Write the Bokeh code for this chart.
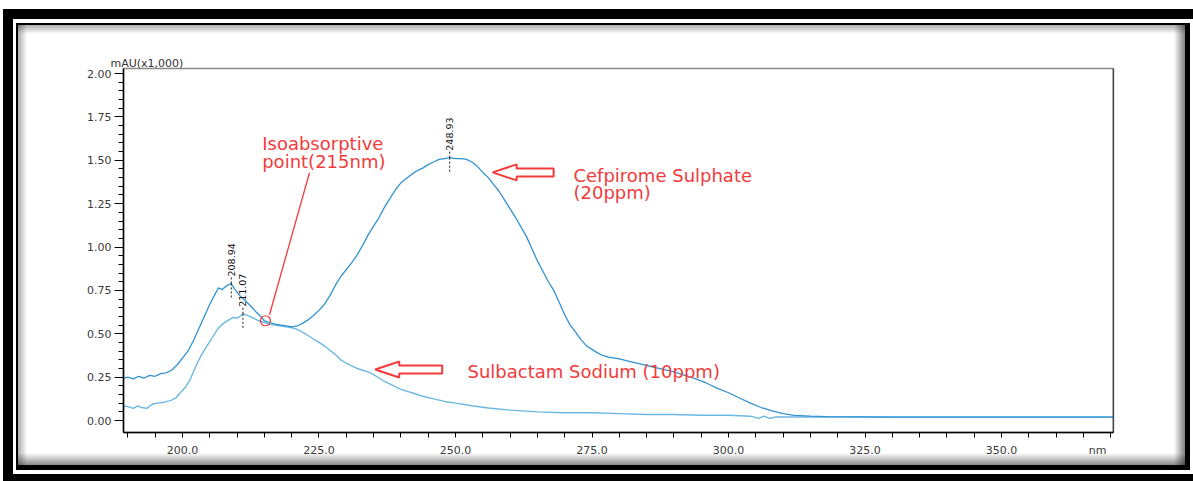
import math
from bokeh.plotting import figure
from bokeh.models import (Label, Span, FixedTicker, NumeralTickFormatter,
                          ColumnDataSource, InlineStyleSheet)
from bokeh.core.properties import value
from bokeh.embed import file_html
from bokeh.resources import INLINE

# ---------------- data ----------------
cef_wl = [189.2, 190.0, 191.0, 192.0, 193.0, 194.0, 195.0, 196.0, 197.0, 198.0, 199.0, 200.0,
          201.0, 202.0, 203.0, 204.0, 205.0, 206.0, 206.6, 207.3, 208.0, 208.9, 209.5, 210.5,
          211.5, 212.5, 213.5, 214.5, 215.0, 216.0, 217.0, 218.0, 219.0, 220.0, 221.0, 222.0,
          223.0, 224.0, 225.0, 226.0, 227.0, 228.0, 229.0, 230.0, 231.0, 232.0, 233.0, 234.0,
          235.0, 236.0, 237.0, 238.0, 239.0, 240.0, 241.0, 242.0, 243.0, 244.0, 245.0, 246.0,
          247.0, 248.0, 249.0, 250.0, 251.0, 252.0, 253.0, 254.0, 255.0, 256.0, 257.0, 258.0,
          259.0, 260.0, 261.0, 262.0, 263.0, 264.0, 265.0, 266.0, 267.0, 268.0, 269.0, 270.0,
          271.0, 272.0, 273.0, 274.0, 275.0, 276.0, 277.0, 278.0, 280.0, 282.0, 284.0, 286.0,
          288.0, 290.0, 292.0, 294.0, 296.0, 298.0, 300.0, 302.0, 304.0, 306.0, 308.0, 310.0,
          312.0, 315.0, 318.0, 330.0, 345.0, 360.0, 370.5]
cef_abs = [0.245, 0.25, 0.24, 0.255, 0.245, 0.26, 0.255, 0.27, 0.275, 0.29, 0.32, 0.36,
           0.40, 0.46, 0.53, 0.60, 0.67, 0.73, 0.765, 0.755, 0.775, 0.79, 0.76, 0.72,
           0.69, 0.66, 0.625, 0.595, 0.575, 0.565, 0.555, 0.55, 0.545, 0.54, 0.545, 0.56,
           0.58, 0.605, 0.635, 0.67, 0.72, 0.78, 0.83, 0.87, 0.91, 0.955, 1.01, 1.07,
           1.12, 1.17, 1.23, 1.28, 1.33, 1.37, 1.395, 1.42, 1.44, 1.455, 1.475, 1.49,
           1.505, 1.51, 1.515, 1.51, 1.51, 1.505, 1.49, 1.465, 1.43, 1.40, 1.36, 1.32,
           1.27, 1.22, 1.17, 1.115, 1.06, 0.99, 0.92, 0.86, 0.80, 0.75, 0.68, 0.61,
           0.55, 0.51, 0.465, 0.43, 0.41, 0.39, 0.375, 0.365, 0.355, 0.34, 0.325, 0.31,
           0.295, 0.28, 0.26, 0.24, 0.215, 0.185, 0.16, 0.13, 0.10, 0.075, 0.055, 0.04,
           0.03, 0.025, 0.022, 0.02, 0.02, 0.02, 0.02]

sul_wl = [189.2, 190.0, 191.0, 191.8, 192.5, 193.5, 194.5, 195.5, 196.5, 197.8, 198.8, 199.6,
          200.5, 201.3, 202.0, 202.7, 203.5, 204.5, 205.5, 206.5, 207.5, 208.5, 209.3, 210.0,
          210.5, 211.1, 212.0, 213.0, 214.0, 215.0, 216.0, 217.0, 218.0, 219.0, 220.0, 221.0,
          222.0, 223.0, 224.0, 225.0, 226.0, 227.0, 228.0, 229.0, 230.0, 231.0, 232.0, 233.0,
          234.0, 235.0, 236.0, 237.0, 238.0, 239.0, 240.0, 242.0, 244.0, 246.0, 248.0, 250.0,
          253.0, 256.0, 260.0, 265.0, 270.0, 275.0, 280.0, 285.0, 290.0, 295.0, 300.0, 304.0,
          305.5, 306.5, 307.5, 308.5, 312.0, 340.0, 370.5]
sul_abs = [0.085, 0.08, 0.07, 0.085, 0.075, 0.07, 0.095, 0.10, 0.105, 0.115, 0.13, 0.16,
           0.19, 0.23, 0.28, 0.33, 0.38, 0.43, 0.48, 0.53, 0.56, 0.58, 0.595, 0.59,
           0.60, 0.615, 0.605, 0.59, 0.575, 0.565, 0.555, 0.55, 0.545, 0.54, 0.535, 0.525,
           0.51, 0.49, 0.47, 0.45, 0.43, 0.405, 0.38, 0.35, 0.33, 0.315, 0.30, 0.29,
           0.28, 0.265, 0.245, 0.225, 0.21, 0.195, 0.18, 0.16, 0.14, 0.125, 0.11, 0.10,
           0.085, 0.072, 0.06, 0.05, 0.045, 0.045, 0.04, 0.035, 0.035, 0.03, 0.03, 0.025,
           0.012, 0.025, 0.012, 0.02, 0.02, 0.02, 0.02]

peak_labels = ["208.94", "211.07", "248.93"]
peak_x = [208.94, 211.07, 248.93]
peak_y = [0.79, 0.615, 1.515]

x_ticks = [200, 225, 250, 275, 300, 325, 350, 367.6]
x_tick_text = {367.6: "nm"}
x_minor = [190, 195, 200, 205, 210, 215, 220, 225, 230, 235, 240, 245, 250, 255, 260, 265,
           270, 275, 280, 285, 290, 295, 300, 305, 310, 315, 320, 325, 330, 335, 340, 345,
           350, 355, 360, 365, 370]
y_ticks = [0.0, 0.25, 0.5, 0.75, 1.0, 1.25, 1.5, 1.75, 2.0]
y_minor = [round(0.05 * i, 2) for i in range(0, 41) if i % 5 != 0]

iso_wl, iso_val = 215.2, 0.575

X0, X1 = 189.2, 370.5
Y0, Y1 = -0.069, 2.029

# ---------------- figure ----------------
W, H = 1193, 481
ML, MR, MT, MB = 123, 80, 68, 49
p = figure(width=W, height=H, x_range=(X0, X1), y_range=(Y0, Y1),
           output_backend="svg", toolbar_location=None,
           min_border_left=ML, min_border_right=MR, min_border_top=MT, min_border_bottom=MB)
p.background_fill_color = "white"
p.border_fill_color = None
p.outline_line_color = "#8a8a8a"
p.outline_line_width = 1.5
p.xgrid.visible = False
p.ygrid.visible = False

FW, FH = W - ML - MR, H - MT - MB
pxn = FW / (X1 - X0)
pyu = FH / (Y1 - Y0)

# decorative double frame with shadow, painted behind the transparent canvas border
def rect(x, y, w, h, grad="black, black"):
    return f"linear-gradient({grad}) {x}px {y}px / {w}px {h}px no-repeat"

layers = [
    rect(3, 9, 1190, 10), rect(3, 9, 10, 472), rect(3, 474, 1190, 7),
    rect(16, 23, 1174, 2), rect(16, 23, 2, 447), rect(1185, 23, 5, 447), rect(16, 465, 1174, 5),
    rect(18, 25, 1167, 9, "to bottom, rgba(0,0,0,0.32), rgba(0,0,0,0)"),
    rect(18, 25, 9, 440, "to right, rgba(0,0,0,0.32), rgba(0,0,0,0)"),
    rect(1174, 25, 11, 440, "to left, rgba(0,0,0,0.5), rgba(0,0,0,0)"),
    rect(18, 453, 1167, 12, "to top, rgba(0,0,0,0.45), rgba(0,0,0,0)"),
]
p.stylesheets = [InlineStyleSheet(css=":host { background: " + ", ".join(layers) + ", white; }")]

for ax in (p.xaxis[0], p.yaxis[0]):
    ax.axis_line_color = "black"
    ax.axis_line_width = 1.5
    ax.major_tick_line_color = "black"
    ax.minor_tick_line_color = "black"
    ax.major_tick_in = 0
    ax.minor_tick_in = 0
    ax.major_label_text_font = "DejaVu Sans"
    ax.major_label_text_font_size = "11px"
    ax.major_label_text_color = "#3a3a3a"

p.xaxis.ticker = FixedTicker(ticks=x_ticks, minor_ticks=x_minor)
p.xaxis.formatter = NumeralTickFormatter(format="0.0")
p.xaxis.major_label_overrides = x_tick_text
p.xaxis.major_tick_out = 0
p.xaxis.minor_tick_out = 5
p.xaxis.major_label_standoff = 6

p.yaxis.ticker = FixedTicker(ticks=y_ticks, minor_ticks=y_minor)
p.yaxis.formatter = NumeralTickFormatter(format="0.00")
p.yaxis.major_tick_out = 9
p.yaxis.minor_tick_out = 5
p.yaxis.major_label_standoff = 3

p.title.text = "mAU(x1,000)"
p.title.align = "left"
p.title.offset = -13
p.title.standoff = -2
p.title.text_font = "DejaVu Sans"
p.title.text_font_size = "11px"
p.title.text_font_style = "normal"
p.title.text_color = "#333333"

p.add_layout(Span(location=X1, dimension="height", line_color="black", line_width=1.5))

# curves
p.line(sul_wl, sul_abs, line_color="#6cb8e3", line_width=1.4)
p.line(cef_wl, cef_abs, line_color="#3193d2", line_width=1.3)

# peak markers
src = ColumnDataSource(dict(x=peak_x, y=peak_y, t=peak_labels))
p.ray(x="x", y="y", length=7, length_units="screen", angle=math.pi / 2, source=src,
      line_color="#222222", line_width=1, line_dash="2 2")
p.ray(x="x", y="y", length=14, length_units="screen", angle=-math.pi / 2, source=src,
      line_color="#222222", line_width=1, line_dash="2 2")
p.text(x="x", y="y", text="t", source=src, angle=math.pi / 2, y_offset=-7,
       text_align="left", text_baseline="middle", text_font=value("DejaVu Sans"),
       text_font_size="9.5px", text_color="#111111")

# isoabsorptive point marker and pointer line
RED = "#f23b3b"
p.scatter([iso_wl], [iso_val], marker="circle", size=10, fill_color=None,
          line_color=RED, line_width=1.2)
ptr_x = [iso_wl + 4 / pxn, iso_wl + 44 / pxn]
ptr_y = [iso_val + 6 / pyu, iso_val + 148 / pyu]
p.line(ptr_x, ptr_y, line_color=RED, line_width=1.3)

def arrow(tip_x, tip_y, length):
    pts = [(0, 0), (24, 8), (24, 4), (length, 4), (length, -4), (24, -4), (24, -8)]
    return ([tip_x + dx / pxn for dx, dy in pts], [tip_y + dy / pyu for dx, dy in pts])

for tx, ty, L in [(256.8, 1.43, 61), (235.3, 0.294, 67)]:
    ax_, ay_ = arrow(tx, ty, L)
    p.patch(ax_, ay_, fill_color="white", line_color=RED, line_width=2)

def label(x, y, text, size="18px", color=RED, **kw):
    p.add_layout(Label(x=x, y=y, text=text, text_color=color, text_font="DejaVu Sans",
                       text_font_size=size, text_baseline="alphabetic", **kw))

label(214.6, 1.595, "Isoabsorptive")
label(214.6, 1.495, "point(215nm)")
label(271.6, 1.415, "Cefpirome Sulphate")
label(271.6, 1.315, "(20ppm)")
label(252.2, 0.28, "Sulbactam Sodium  (10ppm)")

open("out.html", "w").write(file_html(p, INLINE))
